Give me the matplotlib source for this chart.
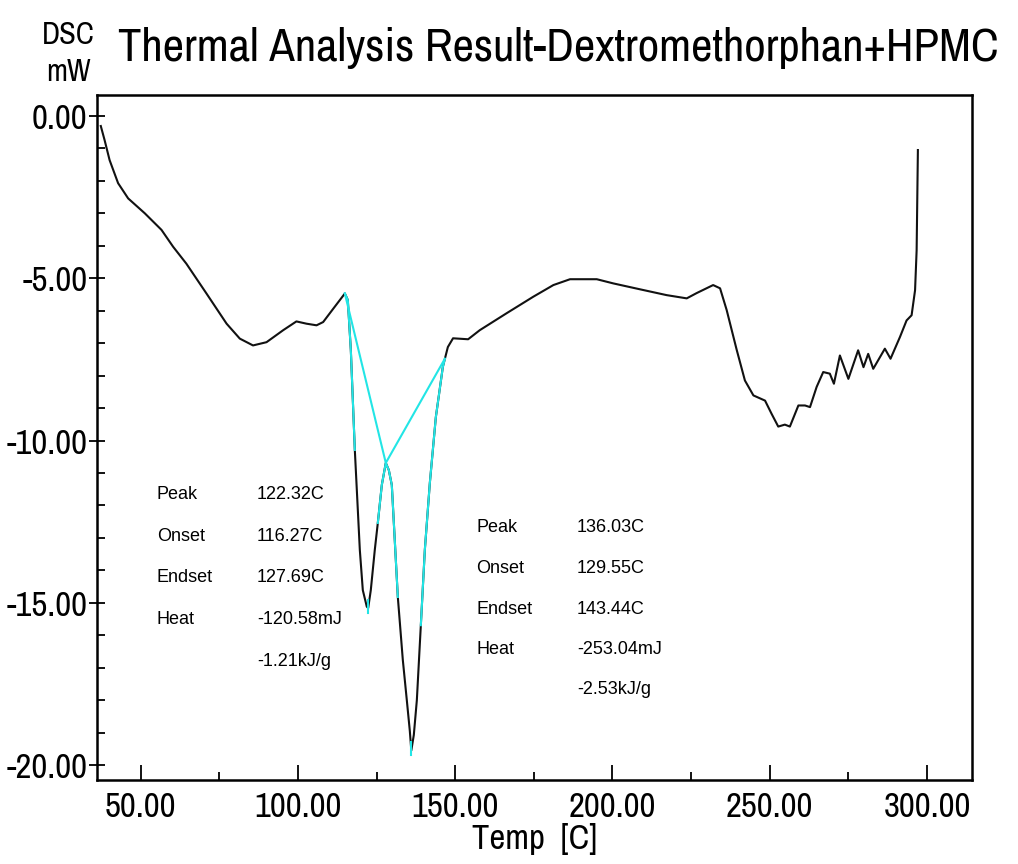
import matplotlib
matplotlib.use("Agg")
import matplotlib.pyplot as plt
import numpy as np
from matplotlib.ticker import MultipleLocator

# DSC trace: temperature [C] and heat flow [mW]
temp = [37.3, 38.5, 40.1, 42.8, 46.0, 51.3, 56.6, 60.3, 64.5, 70.9, 77.3, 81.5,
        85.7, 90.0, 95.3, 99.5, 102.7, 105.9, 108.0, 111.2, 114.9,
        115.84, 116.8, 118.07, 119.66, 120.61, 121.88, 122.32, 123.15, 124.42,
        125.38, 126.65, 127.92, 128.88, 129.83, 131.74, 133.33, 134.6, 135.56,
        136.03, 136.83, 137.79, 139.06, 140.33, 141.92, 143.83, 146.06, 147.65,
        149.3, 154.1, 157.8, 166.3, 174.8, 181.2, 186.5, 195.0, 200.3, 208.7,
        217.2, 223.6, 226.7, 232.0, 234.2, 236.3, 239.5, 242.1, 244.8, 248.5,
        250.6, 252.7, 254.8, 256.4, 259.1, 261.2, 262.8, 264.9, 267.0, 269.1,
        270.4, 272.3, 275.0, 278.1, 279.8, 281.3, 282.9, 286.6, 288.4, 291.4,
        293.5, 295.1, 296.2, 296.7, 297.1]
heat = [-0.31, -0.74, -1.36, -2.07, -2.54, -3.00, -3.51, -4.03, -4.55, -5.47,
        -6.40, -6.86, -7.07, -6.97, -6.60, -6.33, -6.40, -6.45, -6.35, -5.94,
        -5.47,
        -5.67, -7.21, -10.29, -13.37, -14.61, -15.12, -15.16, -14.61, -13.37,
        -12.54, -11.37, -10.69, -10.91, -11.37, -14.82, -16.76, -18.0, -18.95,
        -19.55, -19.07, -18.0, -15.69, -13.37, -11.31, -9.28, -7.73, -7.12,
        -6.85, -6.88, -6.60, -6.08, -5.57, -5.21, -5.03, -5.03, -5.16, -5.34,
        -5.52, -5.62, -5.46, -5.21, -5.31, -5.98, -7.21, -8.15, -8.61, -8.77,
        -9.18, -9.57, -9.51, -9.57, -8.92, -8.92, -8.97, -8.35, -7.89, -7.94,
        -8.25, -7.38, -8.10, -7.22, -7.74, -7.33, -7.79, -7.17, -7.48, -6.81,
        -6.30, -6.14, -5.37, -4.14, -1.05]

# analysis baselines (start, split point, end)
base_x = [114.9, 127.92, 146.7]
base_y = [-5.47, -10.69, -7.48]
# stretches of the trace drawn in the analysis colour
hi_ranges = [(114.9, 118.07), (125.38, 131.74), (139.06, 146.7)]

peak1 = ["122.32C", "116.27C", "127.69C", "-120.58mJ", "-1.21kJ/g"]
peak2 = ["136.03C", "129.55C", "143.44C", "-253.04mJ", "-2.53kJ/g"]
row_names = ["Peak", "Onset", "Endset", "Heat", ""]

narrow = ["Archivo Narrow", "Liberation Sans", "DejaVu Sans"]
plain = ["Liberation Sans", "DejaVu Sans"]
cyan = "#22e5e5"

fig = plt.figure(figsize=(10.18, 8.64), dpi=100)
ax = fig.add_axes([0.0953, 0.0972, 0.8595, 0.793])

t = np.array(temp)
h = np.array(heat)
ax.plot(t, h, color="#111111", lw=1.5, zorder=3)
for lo, hi in hi_ranges:
    xs = np.linspace(lo, hi, 60)
    ax.plot(xs, np.interp(xs, t, h), color=cyan, lw=1.5, zorder=4)
ax.plot(base_x, base_y, color=cyan, lw=1.5, zorder=4)
# peak markers
for pk in (float(peak1[0][:-1]), float(peak2[0][:-1])):
    y0 = np.interp(pk, t, h)
    ax.plot([pk, pk], [y0 + 0.25, y0 - 0.15], color=cyan, lw=1.5, zorder=5)

ax.set_xlim(36.1, 314.3)
ax.set_ylim(-20.46, 0.65)
ax.xaxis.set_major_locator(MultipleLocator(50))
ax.xaxis.set_minor_locator(MultipleLocator(25))
ax.yaxis.set_major_locator(MultipleLocator(5))
ax.yaxis.set_minor_locator(MultipleLocator(1))
ax.xaxis.set_major_formatter(lambda v, p: f"{v:.2f}")
ax.yaxis.set_major_formatter(lambda v, p: f"{v:.2f}")
ax.tick_params(axis="x", which="major", direction="in", length=11, width=1.3, pad=8)
ax.tick_params(axis="x", which="minor", direction="in", length=6, width=1.3)
ax.tick_params(axis="y", which="major", direction="inout", length=12, width=1.3, pad=1)
ax.tick_params(axis="y", which="minor", direction="in", length=6, width=1.3)
for lab in ax.get_xticklabels() + ax.get_yticklabels():
    lab.set_family(narrow)
    lab.set_fontsize(25)
for s in ax.spines.values():
    s.set_linewidth(1.8)

ax.set_xlabel("Temp  [C]", family=narrow, fontsize=25, labelpad=0)

fig.text(0.116, 0.945, "Thermal Analysis Result-Dextromethorphan+HPMC",
         family=narrow, fontsize=33.7, ha="left", va="center")
fig.text(0.041, 0.960, "DSC", family=narrow, fontsize=22, ha="left", va="center")
fig.text(0.045, 0.917, "mW", family=narrow, fontsize=22, ha="left", va="center")

# peak analysis tables
for block, (nx, vx, y0, dy) in zip((peak1, peak2),
                                   ((157, 257, 495, 41.5), (476, 577, 528, 40.5))):
    for i, (name, val) in enumerate(zip(row_names, block)):
        yy = 1 - (y0 + i * dy) / 864
        fig.text(nx / 1018, yy, name, family=plain, fontsize=13, va="center")
        fig.text(vx / 1018, yy, val, family=plain, fontsize=13, va="center")

fig.savefig("out.png", dpi=100)
